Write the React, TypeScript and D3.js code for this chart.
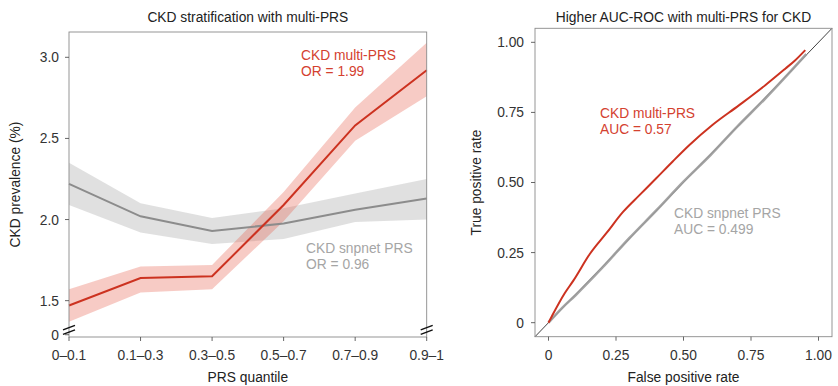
import * as d3 from 'd3';

// PRS quantile bins (left panel)
const quantiles = ['0–0.1', '0.1–0.3', '0.3–0.5', '0.5–0.7', '0.7–0.9', '0.9–1'];

// CKD prevalence (%) with confidence band
const multiMean = [1.47, 1.64, 1.65, 2.09, 2.58, 2.92];
const multiLo = [1.37, 1.55, 1.57, 1.99, 2.485, 2.76];
const multiHi = [1.57, 1.71, 1.72, 2.17, 2.69, 3.09];
const snpMean = [2.22, 2.02, 1.93, 1.975, 2.06, 2.13];
const snpLo = [2.09, 1.92, 1.85, 1.88, 1.985, 2.0];
const snpHi = [2.35, 2.1, 2.01, 2.07, 2.16, 2.25];

// broken y axis: the "0" tick sits just under the break
const prevTicks = [1.29, 1.5, 2.0, 2.5, 3.0];
const prevTickLabels = ['0', '1.5', '2.0', '2.5', '3.0'];
const breakAt = 1.326;

// ROC curves (FPR, TPR)
const multiFpr = [0, 0.0125, 0.06, 0.092, 0.153, 0.215, 0.276, 0.337, 0.399, 0.46, 0.521, 0.607, 0.705, 0.804, 0.877, 0.914, 0.951];
const multiTpr = [0, 0.023, 0.105, 0.15, 0.245, 0.32, 0.395, 0.455, 0.515, 0.575, 0.633, 0.705, 0.775, 0.848, 0.906, 0.936, 0.972];
const snpFpr = [0, 0.05, 0.1, 0.2, 0.3, 0.4, 0.5, 0.6, 0.7, 0.8, 0.9, 0.955];
const snpTpr = [0, 0.052, 0.098, 0.197, 0.302, 0.401, 0.503, 0.598, 0.7, 0.797, 0.9, 0.958];

const rocTicks = [0, 0.25, 0.5, 0.75, 1];
const rocTickLabels = ['0', '0.25', '0.50', '0.75', '1.00'];

const colors = {
  red: '#cc3220',
  redText: '#d4412f',
  redBand: '#e8604f',
  gray: '#8c8c8c',
  grayRoc: '#9c9c9c',
  grayText: '#a5a5a5',
  grayBand: '#999999',
  frame: '#8a8a8a',
  tick: '#555555',
  text: '#333333',
};

const FONT = '"Liberation Sans", Arial, Helvetica, sans-serif';
const FS = 13.8;

function LeftPanel() {
  const L = { left: 69, right: 426.7, top: 32, bottom: 337 };
  const x = d3.scalePoint<string>().domain(quantiles).range([L.left, L.right]).padding(0);
  const y = d3.scaleLinear().domain([1.276, 3.156]).range([L.bottom, L.top]);

  const rows = (mean: number[], lo: number[], hi: number[]) =>
    quantiles.map((q, i) => ({ q, m: mean[i], lo: lo[i], hi: hi[i] }));
  const multi = rows(multiMean, multiLo, multiHi);
  const snp = rows(snpMean, snpLo, snpHi);

  type Row = { q: string; m: number; lo: number; hi: number };
  const area = d3.area<Row>().x(d => x(d.q) as number).y0(d => y(d.lo)).y1(d => y(d.hi));
  const line = d3.line<Row>().x(d => x(d.q) as number).y(d => y(d.m));

  const by = y(breakAt);
  const breakMarks = (cx: number) => (
    <g stroke="#111" strokeWidth={1.5}>
      <line x1={cx - 6} y1={by + 1} x2={cx + 6} y2={by - 3.5} />
      <line x1={cx - 6} y1={by + 5.5} x2={cx + 6} y2={by + 1} />
    </g>
  );

  return (
    <g>
      <text x={(L.left + L.right) / 2} y={22} textAnchor="middle" fontSize={FS} fill="#222">
        CKD stratification with multi-PRS
      </text>
      <path d={area(snp) ?? ''} fill={colors.grayBand} opacity={0.3} />
      <path d={area(multi) ?? ''} fill={colors.redBand} opacity={0.33} />
      <path d={line(snp) ?? ''} fill="none" stroke={colors.gray} strokeWidth={2} />
      <path d={line(multi) ?? ''} fill="none" stroke={colors.red} strokeWidth={2} />
      <rect x={L.left} y={L.top} width={L.right - L.left} height={L.bottom - L.top} fill="none" stroke={colors.frame} strokeWidth={0.9} />
      {prevTicks.map((t, i) => (
        <g key={t}>
          <line x1={L.left - 4} x2={L.left} y1={y(t)} y2={y(t)} stroke={colors.tick} strokeWidth={0.9} />
          <text x={L.left - 10} y={y(t)} dy="0.36em" textAnchor="end" fontSize={FS} fill={colors.text}>
            {prevTickLabels[i]}
          </text>
        </g>
      ))}
      {quantiles.map(q => (
        <g key={q}>
          <line x1={x(q)} x2={x(q)} y1={L.bottom} y2={L.bottom + 4} stroke={colors.tick} strokeWidth={0.9} />
          <text x={x(q)} y={360} textAnchor="middle" fontSize={FS} fill={colors.text}>
            {q}
          </text>
        </g>
      ))}
      {breakMarks(L.left)}
      {breakMarks(L.right)}
      <text x={(L.left + L.right) / 2} y={382} textAnchor="middle" fontSize={FS} fill="#222">
        PRS quantile
      </text>
      <text transform={`translate(20,${(L.top + L.bottom) / 2}) rotate(-90)`} textAnchor="middle" fontSize={FS} fill="#222">
        CKD prevalence (%)
      </text>
      <text x={301} y={60} fontSize={FS} fill={colors.redText}>CKD multi-PRS</text>
      <text x={301} y={75.5} fontSize={FS} fill={colors.redText}>OR = 1.99</text>
      <text x={306} y={253} fontSize={FS} fill={colors.grayText}>CKD snpnet PRS</text>
      <text x={306} y={269} fontSize={FS} fill={colors.grayText}>OR = 0.96</text>
    </g>
  );
}

function RightPanel() {
  const R = { left: 535, right: 832, top: 28.3, bottom: 336.7 };
  const x = d3.scaleLinear().domain([-0.05, 1.05]).range([R.left, R.right]);
  const y = d3.scaleLinear().domain([-0.05, 1.05]).range([R.bottom, R.top]);

  const pts = (fx: number[], ty: number[]) => fx.map((f, i) => [f, ty[i]] as [number, number]);
  const line = d3
    .line<[number, number]>()
    .x(d => x(d[0]))
    .y(d => y(d[1]))
    .curve(d3.curveMonotoneX);

  return (
    <g>
      <text x={(R.left + R.right) / 2} y={22} textAnchor="middle" fontSize={FS} fill="#222">
        Higher AUC-ROC with multi-PRS for CKD
      </text>
      <line x1={x(-0.05)} y1={y(-0.05)} x2={x(1.05)} y2={y(1.05)} stroke="#111" strokeWidth={0.8} />
      <path d={line(pts(snpFpr, snpTpr)) ?? ''} fill="none" stroke={colors.grayRoc} strokeWidth={2.6} opacity={0.92} />
      <path d={line(pts(multiFpr, multiTpr)) ?? ''} fill="none" stroke={colors.red} strokeWidth={2} />
      <rect x={R.left} y={R.top} width={R.right - R.left} height={R.bottom - R.top} fill="none" stroke={colors.frame} strokeWidth={0.9} />
      {rocTicks.map((t, i) => (
        <g key={t}>
          <line x1={R.left - 4} x2={R.left} y1={y(t)} y2={y(t)} stroke={colors.tick} strokeWidth={0.9} />
          <text x={R.left - 11} y={y(t)} dy="0.36em" textAnchor="end" fontSize={FS} fill={colors.text}>
            {rocTickLabels[i]}
          </text>
          <line x1={x(t)} x2={x(t)} y1={R.bottom} y2={R.bottom + 4} stroke={colors.tick} strokeWidth={0.9} />
          <text x={x(t)} y={360} textAnchor="middle" fontSize={FS} fill={colors.text}>
            {rocTickLabels[i]}
          </text>
        </g>
      ))}
      <text x={(R.left + R.right) / 2} y={382} textAnchor="middle" fontSize={FS} fill="#222">
        False positive rate
      </text>
      <text transform={`translate(481,${(R.top + R.bottom) / 2}) rotate(-90)`} textAnchor="middle" fontSize={FS} fill="#222">
        True positive rate
      </text>
      <text x={600} y={118} fontSize={FS} fill={colors.redText}>CKD multi-PRS</text>
      <text x={600} y={133.5} fontSize={FS} fill={colors.redText}>AUC = 0.57</text>
      <text x={674} y={218} fontSize={FS} fill={colors.grayText}>CKD snpnet PRS</text>
      <text x={674} y={234} fontSize={FS} fill={colors.grayText}>AUC = 0.499</text>
    </g>
  );
}

export default function App() {
  return (
    <svg
      width={838}
      height={386}
      style={{ position: 'absolute', left: 0, top: 0, background: '#fff', fontFamily: FONT }}
    >
      <LeftPanel />
      <RightPanel />
    </svg>
  );
}
